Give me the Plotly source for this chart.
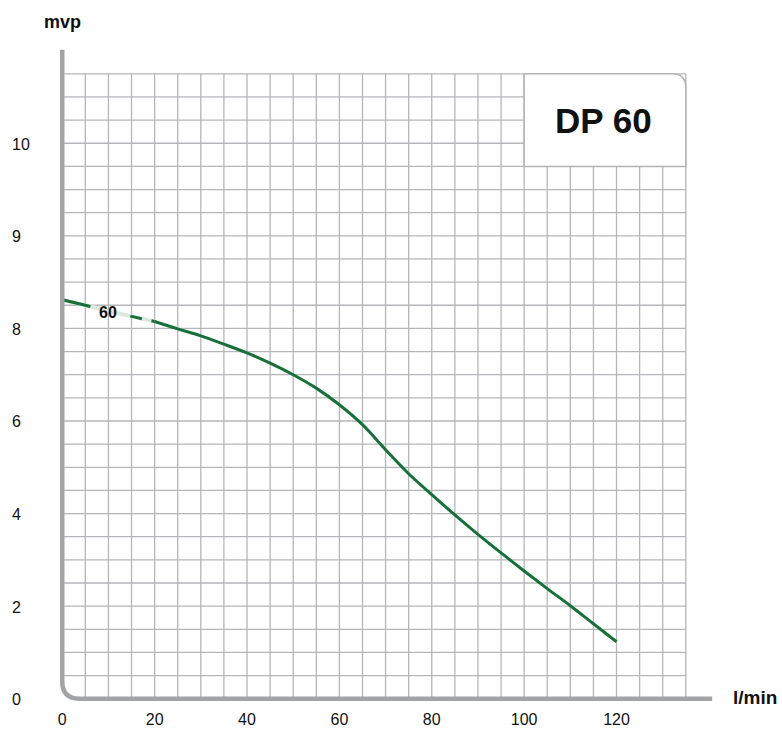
import plotly.graph_objects as go
import numpy as np

# ---- data (flow l/min, head in chart-position units) ----
flow = [0, 5, 10, 15, 20, 25, 30, 35, 40, 45, 50, 55, 60, 65, 70, 75, 80, 85, 90, 95, 100, 105, 110, 115, 120]
head = [8.62, 8.50, 8.38, 8.26, 8.15, 7.99, 7.84, 7.66, 7.47, 7.25, 7.00, 6.71, 6.35, 5.92, 5.38, 4.86, 4.41, 3.97, 3.55, 3.15, 2.76, 2.38, 2.01, 1.62, 1.23]
dashed_until = 20
curve_label = "60"
curve_label_pos = (10, 8.34)

x_tickvals = [0, 20, 40, 60, 80, 100, 120]
x_ticktext = ["0", "20", "40", "60", "80", "100", "120"]
y_tickvals = [0, 2, 4, 6, 8, 10, 12]
y_ticktext = ["0", "2", "4", "6", "8", "9", "10"]

title_text = "DP 60"
y_title = "mvp"
x_title = "l/min"

GREEN = "#17703a"
GRID = "#b5b6ba"
AXIS = "#a2a3a7"
FONT = "Liberation Sans, Arial, sans-serif"

# geometry
W, H = 782, 729
L, R, T, B = 53, 49.9, 9.13, 20.74
XR = [-2, 145]
YR = [-0.2, 14.9]

fig = go.Figure()

fx = np.array(flow); hy = np.array(head)
m1 = fx <= dashed_until
m2 = fx >= dashed_until
# light band under dashed part
fig.add_trace(go.Scatter(x=fx[m1], y=hy[m1], mode="lines",
                         line=dict(color="#dce8df", width=4, shape="spline"),
                         hoverinfo="skip", showlegend=False))
fig.add_trace(go.Scatter(x=fx[m1], y=hy[m1], mode="lines",
                         line=dict(color=GREEN, width=3, dash="29px,41px,12px,10px,100px", shape="spline"),
                         showlegend=False))
fig.add_trace(go.Scatter(x=fx[m2], y=hy[m2], mode="lines",
                         line=dict(color=GREEN, width=3, shape="spline", smoothing=1.0),
                         showlegend=False))

# grid as one path
gx_step, gx_max, gy_step, gy_max = 5, 135, 0.5, 13.5
parts = []
for gx in np.arange(gx_step, gx_max + 0.01, gx_step):
    parts.append(f"M {gx},0 L {gx},{gy_max}")
for gy in np.arange(gy_step, gy_max + 0.01, gy_step):
    parts.append(f"M 0,{gy} L {gx_max},{gy}")
fig.add_shape(type="path", path=" ".join(parts), xref="x", yref="y",
              line=dict(color=GRID, width=1.3), layer="below")

# title box (top right, rounded top-right corner)
bx0, bx1, by0, by1 = 100, 135, 11.5, 13.5
rx, ry = 3.0, 0.30
fig.add_shape(type="path",
              path=f"M {bx0},{by0} L {bx0},{by1} L {bx1-rx},{by1} Q {bx1},{by1} {bx1},{by1-ry} L {bx1},{by0} Z",
              xref="x", yref="y", fillcolor="white",
              line=dict(color="#b3b3b6", width=1.5), layer="above")

# axes with rounded corner
cr_x, cr_y = 3.7, 0.37
fig.add_shape(type="path",
              path=f"M 0,14.02 L 0,{cr_y} Q 0,0 {cr_x},0 L 140.7,0",
              xref="x", yref="y", line=dict(color=AXIS, width=4.5), layer="above")

annotations = []
annotations.append(dict(x=(bx0 + bx1) / 2 - 0.4, y=(by0 + by1) / 2, xref="x", yref="y",
                        xanchor="center", text=f"<b>{title_text}</b>", showarrow=False,
                        font=dict(size=35, color="#111111", family=FONT)))
annotations.append(dict(x=curve_label_pos[0], y=curve_label_pos[1], xref="x", yref="y",
                        xanchor="center", text=f"<b>{curve_label}</b>", showarrow=False,
                        font=dict(size=16, color="#111111", family=FONT)))
annotations.append(dict(x=0, y=14.62, xref="x", yref="y", xanchor="center",
                        text=f"<b>{y_title}</b>",
                        showarrow=False, font=dict(size=18, color="#111111", family=FONT)))
pw = W - L - R
annotations.append(dict(x=(755 - L) / pw, y=0, xref="paper", yref="y", yshift=1,
                        xanchor="center", text=f"<b>{x_title}</b>", showarrow=False,
                        font=dict(size=19, color="#111111", family=FONT)))
for v, t in zip(y_tickvals, y_ticktext):
    annotations.append(dict(x=(10 - L) / pw, y=v, xref="paper", yref="y", xanchor="left",
                            yshift=-1, text=t, showarrow=False,
                            font=dict(size=16, color="#111111", family=FONT)))

fig.update_layout(
    width=W, height=H,
    margin=dict(l=L, r=R, t=T, b=B),
    paper_bgcolor="white", plot_bgcolor="white",
    showlegend=False,
    annotations=annotations,
    xaxis=dict(range=XR, tickvals=x_tickvals, ticktext=x_ticktext, showgrid=False,
               zeroline=False, showline=False, ticks="", automargin=False,
               tickfont=dict(size=16, color="#111111", family=FONT)),
    yaxis=dict(range=YR, showgrid=False, zeroline=False, showline=False,
               showticklabels=False, ticks="", automargin=False),
)

fig.write_html("out.html", config={"displayModeBar": False},
               post_script="document.body.style.margin='0';document.body.style.overflow='hidden';")
